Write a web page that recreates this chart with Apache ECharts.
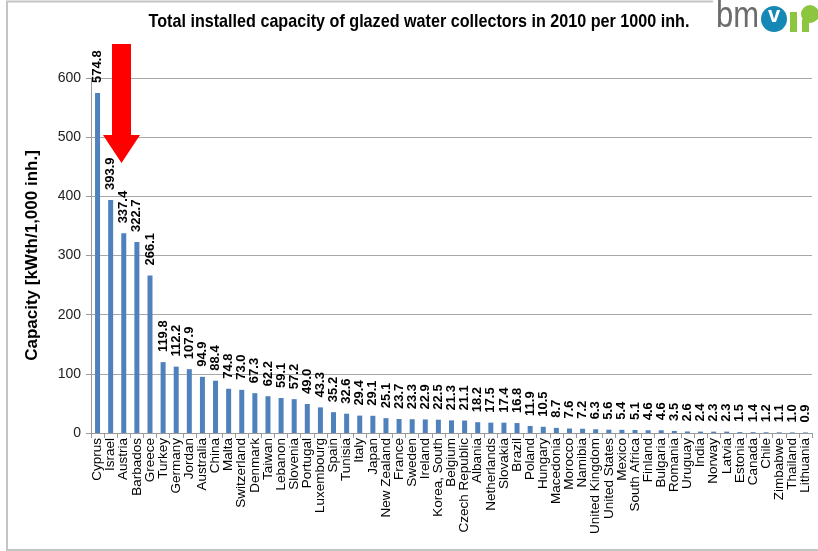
<!DOCTYPE html>
<html>
<head>
<meta charset="utf-8">
<script src="https://cdn.jsdelivr.net/npm/echarts@6/dist/echarts.min.js"></script>
<style>
  html, body { margin: 0; padding: 0; background: #fff; }
  #chart { width: 818px; height: 551px; }
</style>
</head>
<body>
<div id="chart"></div>
<script>
// Installed capacity of glazed water collectors, 2010, kWth per 1,000 inhabitants
const countries = [
  'Cyprus', 'Israel', 'Austria', 'Barbados', 'Greece', 'Turkey', 'Germany', 'Jordan',
  'Australia', 'China', 'Malta', 'Switzerland', 'Denmark', 'Taiwan', 'Lebanon', 'Slovenia',
  'Portugal', 'Luxembourg', 'Spain', 'Tunisia', 'Italy', 'Japan', 'New Zealand', 'France',
  'Sweden', 'Ireland', 'Korea, South', 'Belgium', 'Czech Republic', 'Albania', 'Netherlands',
  'Slovakia', 'Brazil', 'Poland', 'Hungary', 'Macedonia', 'Morocco', 'Namibia',
  'United Kingdom', 'United States', 'Mexico', 'South Africa', 'Finland', 'Bulgaria',
  'Romania', 'Uruguay', 'India', 'Norway', 'Latvia', 'Estonia', 'Canada', 'Chile',
  'Zimbabwe', 'Thailand', 'Lithuania'
];
const capacity = [
  574.8, 393.9, 337.4, 322.7, 266.1, 119.8, 112.2, 107.9,
  94.9, 88.4, 74.8, 73.0, 67.3, 62.2, 59.1, 57.2,
  49.0, 43.3, 35.2, 32.6, 29.4, 29.1, 25.1, 23.7,
  23.3, 22.9, 22.5, 21.3, 21.1, 18.2, 17.5,
  17.4, 16.8, 11.9, 10.5, 8.7, 7.6, 7.2,
  6.3, 5.6, 5.4, 5.1, 4.6, 4.6,
  3.5, 2.6, 2.4, 2.3, 2.3, 1.5, 1.4, 1.2,
  1.1, 1.0, 0.9
];
const yTicks = [0, 100, 200, 300, 400, 500, 600];
const chartTitle = 'Total installed capacity of glazed water collectors in 2010 per 1000 inh.';

const chart = echarts.init(document.getElementById('chart'), null, { renderer: 'canvas' });

chart.setOption({
  backgroundColor: '#ffffff',
  animation: false,
  grid: { left: 91, right: 6, top: 78, bottom: 118 },
  xAxis: {
    type: 'category',
    data: countries,
    boundaryGap: true,
    axisLine: { lineStyle: { color: '#9a9a9a', width: 1 } },
    axisTick: { show: true, alignWithLabel: false, length: 5, lineStyle: { color: '#9a9a9a' } },
    axisLabel: {
      interval: 0,
      rotate: 90,
      margin: 5,
      fontFamily: '"Liberation Sans", Arial, sans-serif',
      fontSize: 13.5,
      color: '#000'
    }
  },
  yAxis: {
    type: 'value',
    min: yTicks[0],
    max: yTicks[yTicks.length - 1],
    interval: 100,
    name: 'Capacity [kWth/1,000 inh.]',
    nameLocation: 'middle',
    nameGap: 50,
    nameTextStyle: {
      fontFamily: '"Liberation Sans", Arial, sans-serif',
      fontWeight: 'bold',
      fontSize: 17,
      color: '#000'
    },
    axisLine: { show: true, lineStyle: { color: '#9a9a9a', width: 1 } },
    axisTick: { show: true, length: 5, lineStyle: { color: '#9a9a9a' } },
    axisLabel: {
      margin: 10,
      fontFamily: '"Liberation Sans", Arial, sans-serif',
      fontSize: 14,
      color: '#222'
    },
    splitLine: { show: true, lineStyle: { color: '#a8a8a8', width: 1.2 } }
  },
  series: [{
    type: 'bar',
    data: capacity,
    barWidth: 5,
    itemStyle: { color: '#4f81bd' },
    label: {
      show: true,
      position: 'top',
      distance: 10,
      rotate: 90,
      align: 'left',
      verticalAlign: 'middle',
      formatter: p => p.value.toFixed(1),
      fontFamily: '"Liberation Sans", Arial, sans-serif',
      fontWeight: 'bold',
      fontSize: 13,
      color: '#000'
    }
  }],
  graphic: [
    // chart title, set in a condensed bold face
    { type: 'text', x: 419, y: 12, scaleX: 0.85, z: 20,
      style: { text: chartTitle, textAlign: 'center',
               font: 'bold 19px "Liberation Sans", Arial, sans-serif', fill: '#000' } },
    // outer frame
    { type: 'polyline', shape: { points: [[7, 551], [7, 1.5], [713, 1.5]] },
      style: { stroke: '#c4c4c4', lineWidth: 2, fill: null }, silent: true },
    { type: 'line', shape: { x1: 7, y1: 550, x2: 818, y2: 550 },
      style: { stroke: '#c4c4c4', lineWidth: 2 }, silent: true },
    // red pointer arrow
    { type: 'polygon', z: 20,
      shape: { points: [[112, 44], [131, 44], [131, 135], [140, 135], [121.5, 163], [103, 135], [112, 135]] },
      style: { fill: '#ff0000' } },
    // logo
    { type: 'text', x: 716, y: -1, scaleX: 0.86, z: 20,
      style: { text: 'bm', font: '36px "Liberation Sans", Arial, sans-serif', fill: '#6b6b6b' } },
    { type: 'circle', z: 20, shape: { cx: 774, cy: 19, r: 13 }, style: { fill: '#1588b5' } },
    { type: 'text', z: 21, x: 774, y: 5,
      style: { text: 'v', textAlign: 'center', font: 'bold 22px "Liberation Sans", Arial, sans-serif', fill: '#ffffff' } },
    { type: 'rect', z: 20, shape: { x: 790, y: 12, width: 7, height: 20 }, style: { fill: '#8cc63e' } },
    { type: 'circle', z: 20, shape: { cx: 810, cy: 14, r: 9 }, style: { fill: '#8cc63e' } },
    { type: 'rect', z: 20, shape: { x: 802, y: 19, width: 7, height: 13 }, style: { fill: '#8cc63e' } }
  ]
});
</script>
</body>
</html>
